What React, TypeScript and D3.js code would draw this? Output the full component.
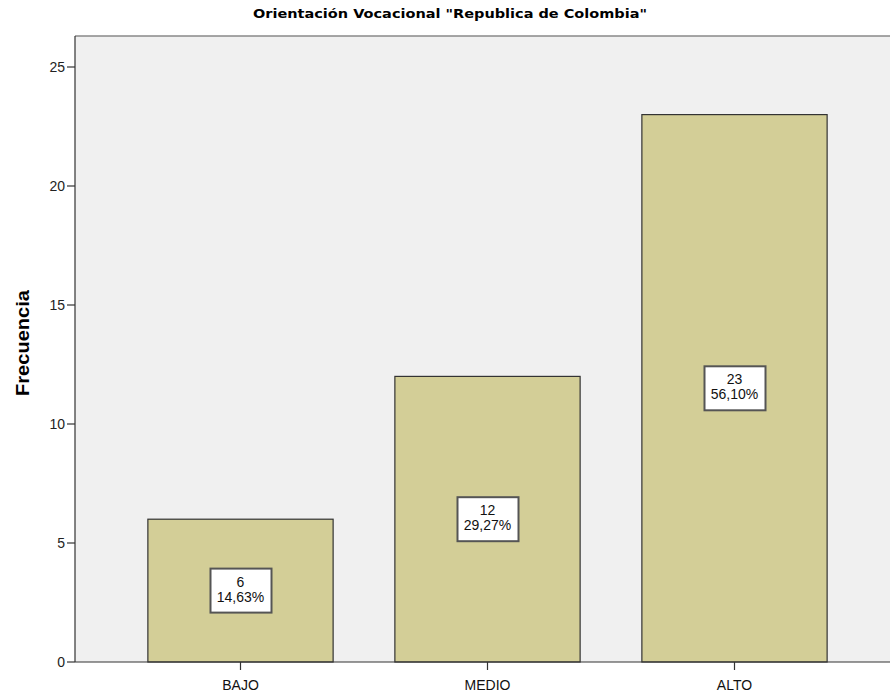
import React from "react";
import * as d3 from "d3";

const categories = ["BAJO", "MEDIO", "ALTO"];
const counts = [6, 12, 23];
const percents = ["14,63%", "29,27%", "56,10%"];
const yTicks = [0, 5, 10, 15, 20, 25];

const W = 890;
const H = 693;
const left = 75;
const top = 36;
const bottom = 662;

export default function App() {
  const y = d3.scaleLinear().domain([0, 25]).range([bottom, 67]);
  const x = d3
    .scaleBand<string>()
    .domain(categories)
    .range([117, 858])
    .paddingInner(0.25)
    .paddingOuter(0.125);
  const font = "Arial, 'Liberation Sans', sans-serif";
  return (
    <svg
      width={W}
      height={H}
      style={{ position: "absolute", left: 0, top: 0, background: "#fff" }}
    >
      <text
        x={450}
        y={18}
        textAnchor="middle"
        fontFamily="'DejaVu Sans', sans-serif"
        fontWeight="bold"
        fontSize={12}
        textLength={394}
        lengthAdjust="spacingAndGlyphs"
        fill="#000"
      >
        Orientación Vocacional "Republica de Colombia"
      </text>
      <rect x={left} y={top} width={W - left} height={bottom - top} fill="#f0f0f0" />
      <line x1={left} x2={W} y1={top} y2={top} stroke="#888" strokeWidth={1.5} />
      {categories.map((c, i) => {
        const x0 = x(c)!;
        const bw = x.bandwidth();
        const yv = y(counts[i]);
        const cy = y(counts[i] / 2);
        const cx = x0 + bw / 2;
        return (
          <g key={c}>
            <rect
              x={x0}
              y={yv}
              width={bw}
              height={bottom - yv}
              fill="#d3ce97"
              stroke="#333"
              strokeWidth={1.2}
            />
            <rect x={cx - 30} y={cy - 22} width={61} height={44} fill="#fff" stroke="#555" strokeWidth={2} />
            <text x={cx} y={cy - 4} textAnchor="middle" fontFamily={font} fontSize={14} fill="#111">
              {counts[i]}
            </text>
            <text x={cx} y={cy + 11} textAnchor="middle" fontFamily={font} fontSize={14} fill="#111">
              {percents[i]}
            </text>
            <line x1={cx} x2={cx} y1={bottom} y2={bottom + 8} stroke="#333" strokeWidth={1.2} />
            <text x={cx} y={bottom + 28} textAnchor="middle" fontFamily={font} fontSize={14} fill="#111">
              {c}
            </text>
          </g>
        );
      })}
      <line x1={left} x2={left} y1={top} y2={bottom} stroke="#333" strokeWidth={1.2} />
      <line x1={left} x2={W} y1={bottom} y2={bottom} stroke="#333" strokeWidth={1.2} />
      {yTicks.map((t) => (
        <g key={t}>
          <line x1={left - 8} x2={left} y1={y(t)} y2={y(t)} stroke="#333" strokeWidth={1.2} />
          <text
            x={left - 10}
            y={y(t) + 5}
            textAnchor="end"
            fontFamily={font}
            fontSize={14}
            fill="#222"
          >
            {t}
          </text>
        </g>
      ))}
      <text
        transform={`translate(29, 343) rotate(-90)`}
        textAnchor="middle"
        fontFamily={font}
        fontWeight="bold"
        fontSize={18}
        textLength={106}
        lengthAdjust="spacingAndGlyphs"
        fill="#000"
      >
        Frecuencia
      </text>
    </svg>
  );
}
